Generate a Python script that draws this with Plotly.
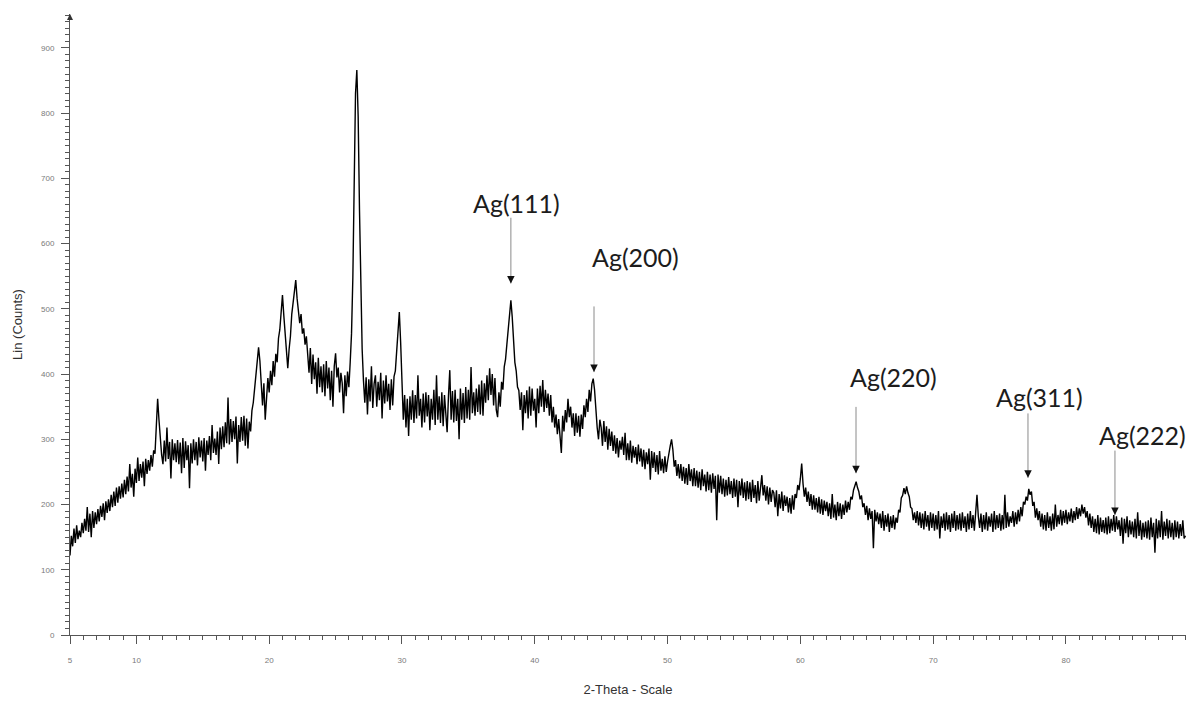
import plotly.graph_objects as go

# X-ray diffraction scan: one reading every 0.1 degree of 2-theta.
SCAN_START = 5.0
STEP = 0.1

# Intensity readings (counts); each inner list covers one whole degree.
counts_05_18 = [
    [122, 152, 136, 163, 141, 168, 147, 160, 150, 172],
    [156, 178, 160, 196, 158, 186, 150, 190, 164, 188],
    [170, 193, 174, 198, 181, 202, 176, 205, 187, 208],
    [190, 215, 196, 220, 198, 226, 203, 228, 209, 232],
    [211, 238, 216, 243, 220, 262, 226, 247, 212, 255],
    [233, 272, 236, 262, 241, 266, 228, 270, 247, 268],
    [252, 276, 258, 283, 278, 318, 362, 330, 302, 276],
    [262, 298, 266, 318, 270, 296, 240, 300, 268, 294],
    [265, 299, 262, 295, 248, 302, 256, 297, 268, 291],
    [225, 294, 263, 300, 268, 296, 260, 303, 272, 298],
    [266, 302, 252, 298, 276, 305, 268, 322, 279, 301],
    [276, 312, 262, 318, 285, 320, 288, 326, 294, 364],
    [292, 331, 296, 328, 300, 335, 263, 322, 296, 334],
    [298, 336, 290, 332, 286, 327, 312, 344, 356, 380],
]
counts_19_32 = [
    [396, 418, 441, 420, 380, 352, 386, 330, 362, 394],
    [372, 405, 383, 420, 396, 431, 418, 455, 468, 500],
    [521, 490, 458, 425, 409, 438, 458, 492, 510, 532],
    [544, 516, 500, 478, 492, 462, 470, 445, 458, 425],
    [402, 440, 385, 430, 392, 418, 370, 425, 380, 412],
    [372, 415, 366, 420, 378, 410, 360, 405, 350, 412],
    [432, 395, 410, 372, 402, 386, 340, 398, 366, 404],
    [380, 418, 462, 548, 690, 830, 866, 795, 652, 520],
    [438, 390, 356, 395, 338, 392, 358, 412, 348, 385],
    [398, 350, 388, 360, 402, 332, 390, 355, 398, 358],
    [385, 345, 392, 352, 396, 405, 440, 478, 495, 448],
    [388, 330, 368, 318, 362, 305, 366, 330, 375, 325],
    [368, 332, 398, 336, 362, 318, 370, 326, 372, 335],
    [368, 314, 362, 330, 376, 322, 398, 330, 366, 325],
]
counts_33_46 = [
    [372, 320, 368, 334, 311, 366, 406, 330, 374, 326],
    [376, 328, 362, 300, 378, 330, 371, 325, 380, 332],
    [376, 330, 411, 340, 372, 336, 378, 342, 384, 338],
    [390, 336, 386, 356, 398, 360, 409, 368, 400, 352],
    [394, 345, 334, 372, 350, 388, 376, 411, 423, 446],
    [470, 496, 513, 488, 452, 418, 405, 380, 375, 345],
    [372, 314, 368, 340, 375, 332, 381, 336, 378, 344],
    [362, 318, 378, 340, 382, 350, 391, 342, 376, 348],
    [370, 336, 368, 326, 350, 318, 338, 308, 331, 300],
    [279, 336, 312, 345, 326, 362, 334, 350, 318, 340],
    [305, 340, 310, 336, 304, 338, 316, 352, 334, 362],
    [342, 376, 358, 385, 393, 376, 341, 318, 300, 330],
    [318, 290, 328, 296, 320, 284, 316, 290, 312, 282],
    [306, 278, 302, 272, 298, 284, 304, 276, 310, 268],
]
counts_47_60 = [
    [294, 268, 298, 264, 290, 272, 288, 262, 292, 266],
    [286, 258, 284, 254, 280, 262, 286, 238, 282, 256],
    [280, 250, 276, 246, 282, 252, 270, 248, 274, 250],
    [266, 280, 290, 300, 284, 258, 268, 244, 262, 240],
    [262, 236, 258, 232, 256, 230, 262, 236, 254, 228],
    [256, 228, 252, 226, 250, 222, 254, 228, 246, 220],
    [250, 222, 246, 218, 248, 224, 244, 176, 246, 218],
    [244, 216, 240, 212, 238, 214, 242, 216, 236, 210],
    [240, 212, 238, 196, 236, 214, 240, 210, 234, 206],
    [236, 208, 234, 204, 238, 210, 230, 202, 236, 206],
    [232, 245, 214, 230, 206, 228, 200, 226, 204, 222],
    [218, 196, 222, 182, 216, 194, 220, 190, 214, 198],
    [212, 188, 210, 186, 214, 192, 216, 210, 230, 222],
    [240, 263, 232, 212, 226, 204, 220, 198, 216, 192],
]
counts_61_74 = [
    [214, 192, 210, 188, 212, 186, 208, 184, 206, 190],
    [204, 182, 202, 178, 216, 180, 200, 176, 204, 182],
    [202, 178, 200, 184, 206, 188, 204, 192, 212, 208],
    [222, 230, 235, 226, 220, 208, 214, 196, 202, 184],
    [198, 176, 194, 178, 190, 133, 192, 174, 188, 170],
    [186, 164, 190, 160, 184, 166, 186, 158, 182, 164],
    [184, 162, 180, 172, 192, 188, 210, 214, 225, 216],
    [228, 218, 212, 196, 194, 176, 188, 172, 190, 168],
    [188, 164, 186, 162, 190, 166, 184, 160, 188, 164],
    [186, 160, 184, 162, 190, 148, 182, 164, 186, 160],
    [188, 162, 184, 158, 186, 164, 190, 160, 184, 162],
    [186, 160, 188, 164, 182, 158, 186, 162, 190, 164],
    [184, 160, 188, 215, 182, 164, 186, 158, 184, 162],
    [188, 160, 182, 166, 186, 158, 190, 162, 184, 164],
]
counts_75_89 = [
    [186, 160, 184, 162, 215, 164, 188, 166, 182, 172],
    [190, 166, 188, 170, 192, 174, 196, 182, 204, 200],
    [212, 206, 224, 215, 220, 198, 204, 180, 194, 176],
    [190, 166, 186, 162, 184, 160, 188, 164, 182, 160],
    [186, 162, 200, 166, 184, 170, 192, 168, 190, 172],
    [192, 170, 188, 174, 194, 172, 190, 176, 196, 178],
    [194, 182, 200, 186, 196, 180, 190, 168, 186, 164],
    [182, 158, 178, 156, 184, 154, 180, 158, 176, 156],
    [180, 154, 182, 156, 178, 160, 184, 158, 182, 162],
    [176, 152, 180, 140, 178, 156, 182, 150, 176, 154],
    [174, 150, 178, 148, 188, 152, 176, 146, 172, 150],
    [174, 148, 176, 146, 180, 150, 172, 126, 178, 148],
    [176, 150, 190, 146, 174, 152, 178, 148, 176, 150],
    [172, 146, 176, 150, 174, 148, 170, 152, 176, 148],
    [152],
]

# Silver reflections marked on the pattern
peak_labels = ["Ag(111)", "Ag(200)", "Ag(220)", "Ag(311)", "Ag(222)"]
peak_two_theta = [38.2, 44.46, 64.19, 77.14, 83.69]
arrow_tail_counts = [642, 506, 352, 342, 285]
arrow_tip_counts = [539, 403, 248, 241, 184]
label_two_theta = [38.66, 47.55, 67.05, 77.97, 85.8]
label_counts = [662, 579, 395, 365, 307]

x_tick_values = [5, 10, 20, 30, 40, 50, 60, 70, 80]
x_tick_text = ["5", "10", "20", "30", "40", "50", "60", "70", "80"]
y_tick_values = [0, 100, 200, 300, 400, 500, 600, 700, 800, 900]

two_theta, counts = [], []
degree = SCAN_START
for block in (counts_05_18, counts_19_32, counts_33_46,
              counts_47_60, counts_61_74, counts_75_89):
    for row in block:
        for j, value in enumerate(row):
            two_theta.append(round(degree + j * STEP, 2))
            counts.append(value)
        degree += 1

fig = go.Figure(
    go.Scatter(
        x=two_theta,
        y=counts,
        mode="lines",
        line=dict(color="#000000", width=1.4),
        hoverinfo="x+y",
    )
)

annotations = []
for lab, px, tail, tip, lx, ly in zip(peak_labels, peak_two_theta,
                                      arrow_tail_counts, arrow_tip_counts,
                                      label_two_theta, label_counts):
    annotations.append(dict(
        x=lx, y=ly, xref="x", yref="y", text=lab, showarrow=False,
        font=dict(family="Lato", size=25, color="#1c1c1c"),
    ))
    annotations.append(dict(
        x=px, y=tip, ax=px, ay=tail, xref="x", yref="y",
        axref="x", ayref="y", text="", showarrow=True,
        arrowhead=0, arrowwidth=1, arrowcolor="#8a8a8a",
    ))
    annotations.append(dict(
        x=px, y=tip, ax=0, ay=-7, xref="x", yref="y", text="",
        showarrow=True, arrowhead=2, arrowsize=1.5, arrowwidth=1,
        arrowcolor="#111111",
    ))

# small arrow capping the intensity axis
annotations.append(dict(
    x=5, y=952, ax=0, ay=7, xref="x", yref="y", text="",
    showarrow=True, arrowhead=2, arrowsize=1.2, arrowwidth=1,
    arrowcolor="#333333",
))

tick_font = dict(family="Liberation Sans", size=8, color="#7a7a7a")
title_font = dict(family="Liberation Sans", size=13, color="#333333")

fig.update_layout(
    width=1199,
    height=701,
    margin=dict(l=70, r=13, t=14, b=66),
    paper_bgcolor="white",
    plot_bgcolor="white",
    showlegend=False,
    annotations=annotations,
    xaxis=dict(
        range=[5, 89.04],
        automargin=False,
        tickmode="array",
        tickvals=x_tick_values,
        ticktext=x_tick_text,
        ticks="outside",
        ticklen=8,
        tickwidth=1,
        tickcolor="#555555",
        tickfont=tick_font,
        ticklabelstandoff=9,
        minor=dict(tickmode="linear", tick0=5, dtick=1, ticks="outside",
                   ticklen=4, tickwidth=1, tickcolor="#555555"),
        showline=True,
        linecolor="#555555",
        linewidth=1,
        showgrid=False,
        zeroline=False,
        title=dict(text="2-Theta - Scale", font=title_font, standoff=21),
    ),
    yaxis=dict(
        range=[0, 952],
        automargin=False,
        tickmode="array",
        tickvals=y_tick_values,
        ticks="outside",
        ticklen=8,
        tickwidth=1,
        tickcolor="#555555",
        tickfont=tick_font,
        ticklabelstandoff=5,
        minor=dict(tickmode="linear", tick0=0, dtick=10, ticks="outside",
                   ticklen=4, tickwidth=1, tickcolor="#555555"),
        showline=True,
        linecolor="#555555",
        linewidth=1,
        showgrid=False,
        zeroline=False,
        title=dict(text="Lin (Counts)", font=title_font, standoff=15),
    ),
)

fig.write_html("out.html")
